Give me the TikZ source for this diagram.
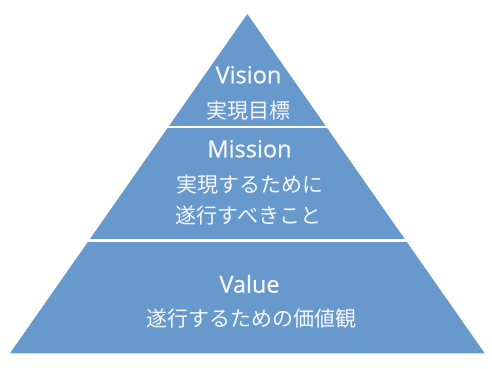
\documentclass[tikz,border=0pt]{standalone}
\usepackage{fontspec}
\setmainfont{Open Sans}
\newfontfamily\enfont[FakeBold=0.6]{Open Sans}
\newfontfamily\jpfont{Noto Sans CJK JP}
\definecolor{pyrblue}{RGB}{103,153,205}
\definecolor{txtwhite}{RGB}{245,248,252}
\begin{document}
\begin{tikzpicture}[x=1pt,y=-1pt,
  entitle/.style={anchor=base,text=txtwhite,inner sep=0pt,font=\enfont\fontsize{23.5}{26}\selectfont},
  jptext/.style={anchor=center,text=txtwhite,inner sep=0pt,font=\jpfont\fontsize{21}{24}\selectfont},
  sepline/.style={draw=white,line width=2.2pt}]
\useasboundingbox (0,0) rectangle (492,369);
\coordinate (apex) at (247.3,14);
\coordinate (bl) at (10,353.3);
\coordinate (br) at (484.7,353.3);
\fill[pyrblue] (apex) -- (bl) -- (br) -- cycle;
\begin{scope}
  \clip (apex) -- (bl) -- (br) -- cycle;
  \coordinate (s1l) at (0,127);
  \coordinate (s1r) at (492,127);
  \coordinate (s2l) at (0,240.5);
  \coordinate (s2r) at (492,240.5);
  \draw[sepline] (s1l) -- (s1r);
  \draw[sepline] (s2l) -- (s2r);
\end{scope}
\node[entitle] (vision) at (248.5,83.3) {Vision};
\node[jptext] (visionjp) at (248.5,111) {実現目標};
\node[entitle] (mission) at (249.5,157.3) {Mission};
\node[jptext] (missionjp1) at (249.5,185) {実現するために};
\node[jptext] (missionjp2) at (248.5,216) {遂行すべきこと};
\node[entitle] (value) at (249.5,292.7) {Value};
\node[jptext] (valuejp) at (251,319) {遂行するための価値観};
\end{tikzpicture}
\end{document}
